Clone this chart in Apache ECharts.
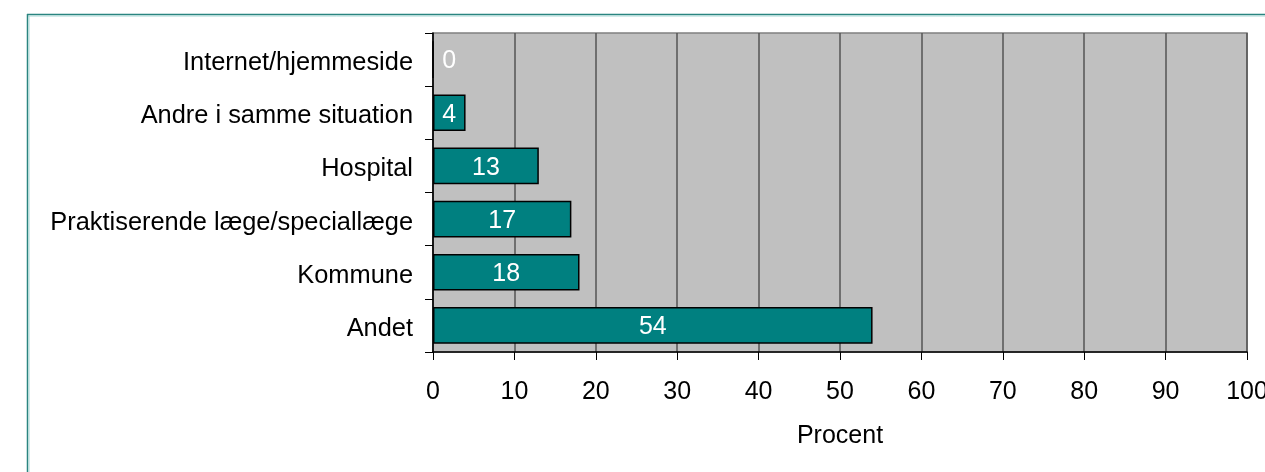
<!DOCTYPE html>
<html>
<head>
<meta charset="utf-8">
<script src="https://cdn.jsdelivr.net/npm/echarts@6/dist/echarts.min.js"></script>
<style>
  html, body { margin: 0; padding: 0; background: #fff; }
  #chart { width: 1265px; height: 472px; }
</style>
</head>
<body>
<div id="chart"></div>
<script>
// Categories listed bottom-to-top, as the category axis draws them
const categories = ['Andet', 'Kommune', 'Praktiserende læge/speciallæge', 'Hospital', 'Andre i samme situation', 'Internet/hjemmeside'];
const values = [54, 18, 17, 13, 4, 0];
const xTicks = [0, 10, 20, 30, 40, 50, 60, 70, 80, 90, 100];
const axisName = 'Procent';

const font = 'Liberation Sans, Arial, sans-serif';
const fontSize = 25;

const chart = echarts.init(document.getElementById('chart'));

// A zero-length bar keeps its label just inside the plot's left edge
const barData = values.map(v => {
  const item = { value: v };
  if (v === 0) {
    item.label = { position: [10, '50%'], verticalAlign: 'middle', align: 'left', offset: [0, 2] };
  }
  return item;
});

chart.setOption({
  animation: false,
  graphic: [
    { type: 'line', shape: { x1: 27, y1: 14.5, x2: 1265, y2: 14.5 }, style: { stroke: '#2a8580', lineWidth: 1.5 } },
    { type: 'line', shape: { x1: 27, y1: 16, x2: 1265, y2: 16 }, style: { stroke: '#a8d8d5', lineWidth: 1 } },
    { type: 'line', shape: { x1: 27.5, y1: 14, x2: 27.5, y2: 472 }, style: { stroke: '#2a8580', lineWidth: 1.5 } },
    { type: 'line', shape: { x1: 29, y1: 16, x2: 29, y2: 472 }, style: { stroke: '#a8d8d5', lineWidth: 1 } }
  ],
  grid: {
    left: 433, right: 18, top: 33, bottom: 120,
    containLabel: false, outerBoundsMode: 'none',
    show: true, backgroundColor: '#c0c0c0', borderColor: '#808080', borderWidth: 1.5
  },
  xAxis: {
    type: 'value', min: xTicks[0], max: xTicks[xTicks.length - 1], interval: 10,
    name: axisName, nameLocation: 'middle', nameGap: 72,
    nameTextStyle: { fontFamily: font, fontSize: fontSize, color: '#000', verticalAlign: 'top' },
    axisLine: { show: true, lineStyle: { color: '#000', width: 1.5 } },
    axisTick: { show: true, length: 8, lineStyle: { color: '#000', width: 1 } },
    axisLabel: { fontFamily: font, fontSize: fontSize, color: '#000', margin: 28, hideOverlap: false },
    splitLine: { show: true, lineStyle: { color: '#555', width: 1.5 } }
  },
  yAxis: {
    type: 'category', data: categories,
    axisLine: { show: true, lineStyle: { color: '#000', width: 1.5 } },
    axisTick: { show: true, length: 8, lineStyle: { color: '#000', width: 1 } },
    axisLabel: {
      margin: 20,
      formatter: v => '{c|' + v + '}',
      rich: { c: { fontFamily: font, fontSize: 25.4, color: '#000', padding: [7, 0, 0, 0] } }
    }
  },
  series: [{
    type: 'bar',
    data: barData,
    barWidth: '69%',
    itemStyle: { color: '#008080', borderColor: '#000', borderWidth: 1.5 },
    label: {
      show: true, position: 'inside', color: '#fff',
      fontFamily: font, fontSize: fontSize, offset: [0, 2]
    }
  }]
});
</script>
</body>
</html>
